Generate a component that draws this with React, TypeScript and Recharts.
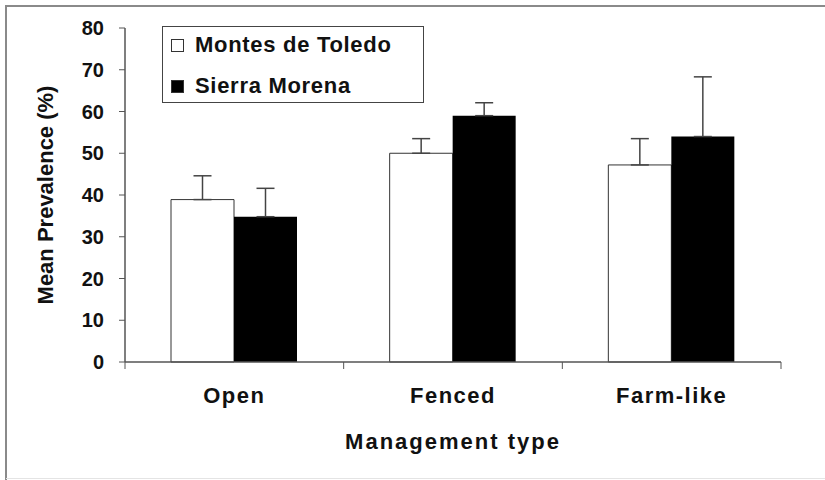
import { BarChart, Bar, XAxis, YAxis, ErrorBar, Legend } from 'recharts';

const categories = ['Open', 'Fenced', 'Farm-like'];
const montesMean = [38.9, 50.0, 47.2];
const montesErr = [5.7, 3.5, 6.3];
const sierraMean = [34.8, 59.0, 54.0];
const sierraErr = [6.8, 3.1, 14.3];
const yTicks = [0, 10, 20, 30, 40, 50, 60, 70, 80];

const data = categories.map((name, i) => ({
  name,
  montes: montesMean[i],
  montesErr: [0, montesErr[i]],
  sierra: sierraMean[i],
  sierraErr: [0, sierraErr[i]],
}));

const FONT = '"Liberation Sans", Arial, sans-serif';
const AXIS = '#555';

function LegendBox(props: any) {
  const items = props.payload || [];
  return (
    <div
      style={{
        position: 'relative',
        width: 262,
        height: 77,
        border: '1px solid #444',
        boxSizing: 'border-box',
        background: '#fff',
        fontFamily: FONT,
      }}
    >
      {items.map((entry: any, i: number) => (
        <div
          key={entry.value}
          style={{
            position: 'absolute',
            left: 8,
            top: i === 0 ? -2 : 39,
            height: 40,
            display: 'flex',
            alignItems: 'center',
          }}
        >
          <span
            style={{
              display: 'inline-block',
              width: 11,
              height: 11,
              background: entry.color,
              border: '1px solid #333',
              marginRight: 11,
            }}
          />
          <span style={{ fontSize: 22, fontWeight: 'bold', color: '#111', letterSpacing: 0.7 }}>{entry.value}</span>
        </div>
      ))}
    </div>
  );
}

// category label in the middle, tick marks on the category edges
function CatTick(props: any) {
  const { x, y, payload, index, visibleTicksCount } = props;
  const half = payload.offset || 0;
  const isLast = index === visibleTicksCount - 1;
  return (
    <g>
      <line x1={x - half} x2={x - half} y1={y - 25} y2={y - 18} stroke={AXIS} />
      {isLast && <line x1={x + half} x2={x + half} y1={y - 25} y2={y - 18} stroke={AXIS} />}
      <text
        x={x}
        y={y + 16}
        textAnchor="middle"
        fontFamily={FONT}
        fontSize={22}
        fontWeight="bold"
        fill="#111"
        letterSpacing={1.5}
      >
        {payload.value}
      </text>
    </g>
  );
}

function YTitle(props: any) {
  const vb = props.viewBox;
  const cx = vb.x + 53;
  const cy = vb.y + vb.height / 2;
  return (
    <text
      x={cx}
      y={cy}
      transform={`rotate(-90 ${cx} ${cy})`}
      textAnchor="middle"
      fontFamily={FONT}
      fontWeight="bold"
      fontSize={22}
      fill="#111"
    >
      Mean Prevalence (%)
    </text>
  );
}

export default function App() {
  return (
    <div style={{ position: 'absolute', left: 0, top: 0, width: 825, height: 480, background: '#fff', overflow: 'hidden' }}>
      <div style={{ position: 'absolute', left: 6, top: 5, width: 819, height: 0, borderTop: '2px solid #8a8a8a' }} />
      <div style={{ position: 'absolute', left: 5, top: 5, width: 0, height: 475, borderLeft: '2px solid #8a8a8a' }} />
      <div style={{ position: 'absolute', left: 6, top: 478, width: 819, height: 0, borderTop: '1px solid #e4e4e4' }} />
      <BarChart
        width={825}
        height={480}
        data={data}
        margin={{ top: 28, right: 44, left: 0, bottom: 28 }}
        barGap={0}
        style={{ position: 'absolute', left: 0, top: 0 }}
      >
        <XAxis
          dataKey="name"
          height={90}
          axisLine={{ stroke: AXIS, strokeWidth: 1.5 }}
          tickLine={false}
          tickSize={0}
          tickMargin={25}
          tick={<CatTick />}
          label={{
            value: 'Management type',
            position: 'insideBottom',
            offset: 3,
            style: { fontFamily: FONT, fontSize: 22, fontWeight: 'bold', fill: '#111', letterSpacing: 2 },
          }}
        />
        <YAxis
          width={125}
          domain={[0, 80]}
          ticks={yTicks}
          interval={0}
          axisLine={{ stroke: AXIS, strokeWidth: 1.5 }}
          tickLine={{ stroke: AXIS }}
          tickSize={6}
          tickMargin={15}
          tick={{ fontFamily: FONT, fontSize: 20, fontWeight: 'bold', fill: '#111' }}
          label={{ content: YTitle }}
        />
        <Legend
          layout="vertical"
          align="center"
          verticalAlign="middle"
          content={LegendBox}
          wrapperStyle={{ left: 162, top: 26, width: 262, height: 77 }}
        />
        <Bar
          dataKey="montes"
          name="Montes de Toledo"
          fill="#ffffff"
          stroke="#333"
          strokeWidth={1}
          barSize={63}
          isAnimationActive={false}
        >
          <ErrorBar dataKey="montesErr" width={9} stroke="#444" strokeWidth={1.5} direction="y" />
        </Bar>
        <Bar
          dataKey="sierra"
          name="Sierra Morena"
          fill="#000000"
          barSize={63}
          isAnimationActive={false}
        >
          <ErrorBar dataKey="sierraErr" width={9} stroke="#444" strokeWidth={1.5} direction="y" />
        </Bar>
      </BarChart>
    </div>
  );
}
